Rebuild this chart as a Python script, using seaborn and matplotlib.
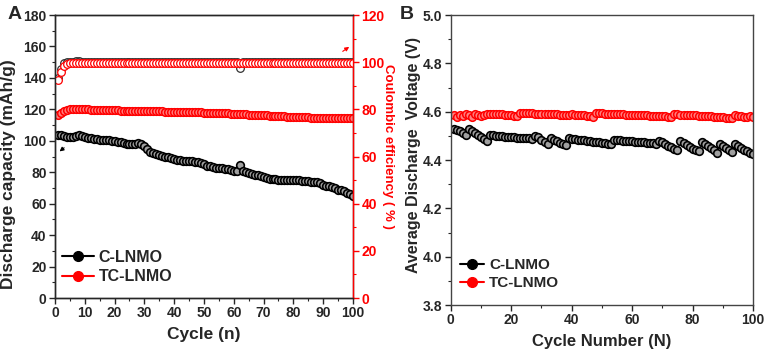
import matplotlib
matplotlib.use("Agg")
import matplotlib.pyplot as plt
from matplotlib.lines import Line2D
from matplotlib.ticker import MultipleLocator
import seaborn as sns
import pandas as pd

# ---------------- data ----------------
cycles = list(range(1, 101))

cap_c = [104, 103.5, 103, 102.5, 102.5, 102.5, 103, 103.5, 103, 102.5,
         102, 101.5, 101, 101, 100.5, 100.5, 100.5, 100.5, 100, 100,
         99.5, 99, 98.5, 98, 98, 98, 98, 98.5, 98, 97,
         95, 93, 92, 91.5, 91, 90.5, 90, 89.5, 89, 88.5,
         88, 87.5, 87, 87, 87, 87, 86.5, 86.5, 86, 85,
         84, 84, 83.5, 83, 83, 82.5, 82, 82, 81.5, 81,
         81, 84.5, 80.5, 80, 79.5, 79, 78.5, 78, 77.5, 77,
         76.5, 76, 75.5, 75.5, 75, 75, 75, 75, 75, 75,
         75, 75, 74.5, 74.5, 74.5, 74, 74, 73.5, 73, 72,
         71.5, 71, 70.5, 70, 69, 68.5, 68, 67, 66, 65]

cap_tc = [116.5, 118, 119, 119.5, 120, 120, 120, 120, 120, 120,
          120, 119.8, 119.8, 119.7, 119.6, 119.5, 119.5, 119.4, 119.4, 119.3,
          119.3, 119.2, 119.2, 119.1, 119, 119, 119, 119, 118.9, 118.9,
          118.8, 118.8, 118.8, 118.7, 118.7, 118.7, 118.6, 118.6, 118.6, 118.5,
          118.5, 118.5, 118.4, 118.4, 118.3, 118.3, 118.2, 118.2, 118.1, 118,
          118, 117.9, 117.8, 117.8, 117.7, 117.6, 117.5, 117.4, 117.3, 117.2,
          117.1, 117, 116.9, 116.8, 116.7, 116.6, 116.5, 116.4, 116.3, 116.2,
          116.1, 116, 115.9, 115.8, 115.7, 115.6, 115.5, 115.4, 115.3, 115.2,
          115.1, 115, 115, 114.9, 114.9, 114.8, 114.8, 114.7, 114.7, 114.6,
          114.6, 114.5, 114.5, 114.4, 114.4, 114.3, 114.3, 114.2, 114.2, 114.2]

ce_c = [93.5, 97, 99.5, 100, 100.2, 100.1, 100.3, 100.6, 100.2, 100.1,
        100, 100.1, 100, 100.1, 100, 100, 100.1, 100, 100, 100.1,
        100, 100, 100.1, 100, 100, 100, 100.1, 100, 100, 100,
        100, 100.1, 100, 100, 100, 100, 100.1, 100, 100, 100,
        100.1, 100, 100, 100, 100, 100.1, 100, 100, 100, 100.1,
        100, 100, 100, 100.1, 100, 100, 100.1, 100, 100, 100,
        100, 97.5, 100, 100.1, 100, 100, 100, 100, 100.1, 100,
        100, 100, 100.1, 100, 100, 100, 100, 100.1, 100, 100,
        100, 100, 100, 100, 100.1, 100, 100, 100, 100, 100,
        100, 100.1, 100, 100, 100, 100, 100, 100.1, 100, 100]

ce_tc = [92.5, 96, 98.5, 99.3, 99.5, 99.5, 99.6, 99.6, 99.5, 99.6,
         99.6, 99.5, 99.6, 99.6, 99.6, 99.5, 99.6, 99.6, 99.6, 99.6,
         99.5, 99.6, 99.6, 99.6, 99.6, 99.5, 99.6, 99.6, 99.6, 99.6,
         99.6, 99.5, 99.6, 99.6, 99.6, 99.6, 99.6, 99.5, 99.6, 99.6,
         99.6, 99.6, 99.6, 99.5, 99.6, 99.6, 99.6, 99.6, 99.6, 99.5,
         99.6, 99.6, 99.6, 99.6, 99.6, 99.6, 99.5, 99.6, 99.6, 99.6,
         99.6, 99.6, 99.6, 99.5, 99.6, 99.6, 99.6, 99.6, 99.6, 99.6,
         99.5, 99.6, 99.6, 99.6, 99.6, 99.6, 99.6, 99.5, 99.6, 99.6,
         99.6, 99.6, 99.6, 99.6, 99.5, 99.6, 99.6, 99.6, 99.6, 99.6,
         99.6, 99.5, 99.6, 99.6, 99.6, 99.6, 99.6, 99.6, 99.5, 99.6]

volt_c = [4.527, 4.525, 4.520, 4.512, 4.505, 4.527, 4.520, 4.512, 4.505, 4.495,
          4.487, 4.478, 4.503, 4.502, 4.501, 4.500, 4.498, 4.497, 4.496, 4.495,
          4.494, 4.493, 4.493, 4.492, 4.491, 4.490, 4.489, 4.500, 4.495, 4.485,
          4.475, 4.465, 4.490, 4.485, 4.478, 4.472, 4.467, 4.462, 4.490, 4.488,
          4.486, 4.485, 4.483, 4.482, 4.480, 4.478, 4.476, 4.475, 4.473, 4.471,
          4.470, 4.468, 4.466, 4.483, 4.482, 4.481, 4.480, 4.479, 4.478, 4.477,
          4.476, 4.475, 4.474, 4.473, 4.472, 4.470, 4.469, 4.467, 4.480, 4.474,
          4.467, 4.460, 4.453, 4.447, 4.441, 4.478, 4.470, 4.462, 4.455, 4.447,
          4.441, 4.438, 4.473, 4.465, 4.457, 4.449, 4.440, 4.430, 4.466, 4.459,
          4.451, 4.443, 4.435, 4.466, 4.459, 4.451, 4.443, 4.436, 4.430, 4.427]

volt_tc = [4.585, 4.580, 4.588, 4.582, 4.592, 4.585, 4.580, 4.590, 4.586, 4.584,
           4.588, 4.590, 4.592, 4.591, 4.590, 4.590, 4.589, 4.588, 4.587, 4.586,
           4.584, 4.582, 4.595, 4.594, 4.594, 4.593, 4.593, 4.592, 4.592, 4.591,
           4.591, 4.590, 4.590, 4.589, 4.589, 4.588, 4.588, 4.587, 4.587, 4.590,
           4.588, 4.587, 4.586, 4.585, 4.584, 4.583, 4.580, 4.595, 4.594, 4.593,
           4.592, 4.592, 4.591, 4.590, 4.590, 4.589, 4.589, 4.588, 4.588, 4.587,
           4.587, 4.586, 4.586, 4.585, 4.585, 4.584, 4.583, 4.583, 4.582, 4.582,
           4.581, 4.580, 4.579, 4.589, 4.589, 4.588, 4.588, 4.587, 4.586, 4.586,
           4.585, 4.584, 4.583, 4.582, 4.582, 4.581, 4.580, 4.579, 4.578, 4.577,
           4.576, 4.575, 4.572, 4.585, 4.582, 4.584, 4.580, 4.578, 4.583, 4.580]

series_names = ["C-LNMO", "TC-LNMO"]

# ---------------- style ----------------
sns.set_style("ticks")
plt.rcParams["font.family"] = ["Liberation Sans", "DejaVu Sans"]
plt.rcParams["font.weight"] = "bold"
plt.rcParams["axes.labelweight"] = "bold"
plt.rcParams["axes.linewidth"] = 1.0
plt.rcParams["xtick.direction"] = "out"
plt.rcParams["ytick.direction"] = "out"

RED = "#ff0000"
TICK_FS = 10
fig = plt.figure(figsize=(7.68, 3.54), dpi=100)
axA = fig.add_axes([0.0716, 0.158, 0.388, 0.7996])
axB = fig.add_axes([0.587, 0.138, 0.3935, 0.8196])

df = pd.DataFrame({"cycle": cycles, "cap_c": cap_c, "cap_tc": cap_tc,
                   "ce_c": ce_c, "ce_tc": ce_tc,
                   "v_c": volt_c, "v_tc": volt_tc})

mk_c = dict(marker="o", markersize=5.5, markerfacecolor="#a0a0a0",
            markeredgecolor="black", markeredgewidth=1.2, linewidth=0.8)
mk_tc = dict(marker="o", markersize=5.5, markerfacecolor="#ff8080",
             markeredgecolor=RED, markeredgewidth=1.1, linewidth=0.8)

# ---- panel A ----
sns.lineplot(data=df, x="cycle", y="cap_c", ax=axA, color="black", **mk_c)
sns.lineplot(data=df, x="cycle", y="cap_tc", ax=axA, color=RED, **mk_tc)
axA.set_xlim(0, 100)
axA.set_ylim(0, 180)
axA.xaxis.set_major_locator(MultipleLocator(10))
axA.xaxis.set_minor_locator(MultipleLocator(5))
axA.yaxis.set_major_locator(MultipleLocator(20))
axA.yaxis.set_minor_locator(MultipleLocator(10))
axA.set_xlabel("Cycle (n)", fontsize=12.5, fontweight="bold", labelpad=5)
axA.set_ylabel("Discharge capacity (mAh/g)", fontsize=12.5, fontweight="bold",
               va="center", ha="center")
axA.yaxis.set_label_coords(-0.155, 0.438)
axA.tick_params(labelsize=TICK_FS, length=4, width=1, pad=2)
axA.tick_params(which="minor", length=2.5, width=0.8)
for lab in axA.get_xticklabels() + axA.get_yticklabels():
    lab.set_fontweight("bold")

axA2 = axA.twinx()
sns.lineplot(data=df, x="cycle", y="ce_c", ax=axA2, color="black",
             marker="o", markersize=5.5, markerfacecolor="none",
             markeredgecolor="#333333", markeredgewidth=0.9, linewidth=0.6)
sns.lineplot(data=df, x="cycle", y="ce_tc", ax=axA2, color=RED,
             marker="o", markersize=5.5, markerfacecolor="white",
             markeredgecolor=RED, markeredgewidth=0.9, linewidth=0.6)
axA2.set_ylim(0, 120)
axA2.yaxis.set_major_locator(MultipleLocator(20))
axA2.yaxis.set_minor_locator(MultipleLocator(10))
axA2.set_ylabel("Coulombic efficiency ( % )", color=RED, fontsize=9.5,
                fontweight="bold", rotation=270, va="center", ha="center")
axA2.yaxis.set_label_coords(1.116, 0.534)
axA2.tick_params(axis="y", colors=RED, labelsize=TICK_FS, length=4, width=1, pad=2)
axA2.tick_params(axis="y", which="minor", colors=RED, length=2.5, width=0.8)
axA2.spines["right"].set_color(RED)
for lab in axA2.get_yticklabels():
    lab.set_fontweight("bold")
axA2.set_xlabel("")

axA.annotate("", xy=(0.008, 0.512), xytext=(0.038, 0.537), xycoords="axes fraction",
             arrowprops=dict(arrowstyle="-|>", color="black", lw=0.8,
                             mutation_scale=6))
axA.annotate("", xy=(0.995, 0.893), xytext=(0.958, 0.866), xycoords="axes fraction",
             arrowprops=dict(arrowstyle="-|>", color=RED, lw=0.8,
                             mutation_scale=6))

handles = [Line2D([], [], color="black", marker="o", markersize=7,
                  markerfacecolor="black", markeredgecolor="black", lw=1.5),
           Line2D([], [], color=RED, marker="o", markersize=7,
                  markerfacecolor=RED, markeredgecolor=RED, lw=1.5)]
axA.legend(handles, series_names, loc="center left", bbox_to_anchor=(0.023, 0.110),
           frameon=False, prop={"size": 11.5, "weight": "bold"},
           handlelength=2.0, handletextpad=0.3, labelspacing=0.3,
           borderpad=0, borderaxespad=0)

# ---- panel B ----
sns.lineplot(data=df, x="cycle", y="v_c", ax=axB, color="black", **mk_c)
sns.lineplot(data=df, x="cycle", y="v_tc", ax=axB, color=RED, **mk_tc)
axB.set_xlim(0, 100)
axB.set_ylim(3.8, 5.0)
axB.xaxis.set_major_locator(MultipleLocator(20))
axB.xaxis.set_minor_locator(MultipleLocator(10))
axB.yaxis.set_major_locator(MultipleLocator(0.2))
axB.yaxis.set_minor_locator(MultipleLocator(0.1))
axB.set_xlabel("Cycle Number (N)", fontsize=12, fontweight="bold", labelpad=5)
axB.set_ylabel("Average Discharge  Voltage (V)", fontsize=11.5, fontweight="bold",
               va="center", ha="center")
axB.yaxis.set_label_coords(-0.122, 0.517)
axB.tick_params(labelsize=TICK_FS, length=4, width=1, pad=2)
axB.tick_params(which="minor", length=2.5, width=0.8)
for lab in axB.get_xticklabels() + axB.get_yticklabels():
    lab.set_fontweight("bold")
for sp in axB.spines.values():
    sp.set_color("#444444")
axB.legend(handles, series_names, loc="center left", bbox_to_anchor=(0.03, 0.107),
           frameon=False, prop={"size": 11, "weight": "bold"},
           handlelength=1.6, handletextpad=0.3, labelspacing=0.25,
           borderpad=0, borderaxespad=0)

fig.text(0.010, 0.958, "A", fontsize=14, fontweight="bold", va="center")
fig.text(0.521, 0.958, "B", fontsize=14, fontweight="bold", va="center")

fig.savefig("out.png", dpi=100)
